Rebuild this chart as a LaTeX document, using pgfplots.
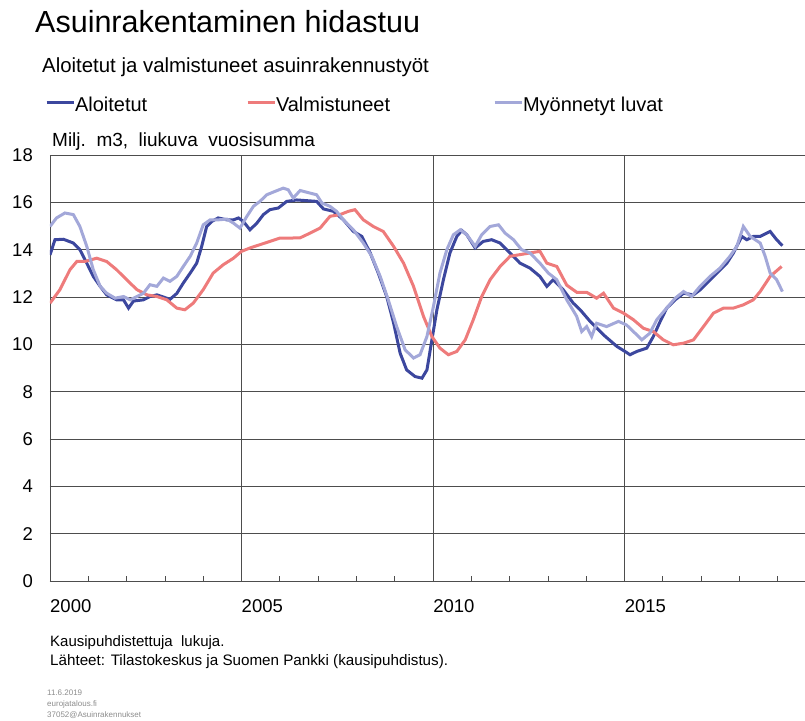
\documentclass[border=0pt]{standalone}
\usepackage{fontspec}
\setmainfont{Liberation Sans}
\usepackage{pgfplots}
\usepackage{pgfplotstable}
\pgfplotsset{compat=1.18}
\definecolor{cDark}{HTML}{3C479E}
\definecolor{cRed}{HTML}{EE7B7B}
\definecolor{cLight}{HTML}{A3A8D9}
\definecolor{cGrid}{HTML}{4D4D4D}

\pgfplotstableread{
x y
2000.00 13.78
2000.13 14.42
2000.35 14.44
2000.61 14.28
2000.78 14.00
2000.96 13.43
2001.13 12.87
2001.31 12.45
2001.48 12.09
2001.74 11.88
2001.92 11.88
2002.05 11.53
2002.18 11.83
2002.44 11.88
2002.61 12.02
2002.79 12.09
2002.96 12.00
2003.13 11.90
2003.31 12.15
2003.48 12.59
2003.66 13.01
2003.83 13.43
2003.96 14.14
2004.09 14.98
2004.22 15.19
2004.39 15.34
2004.62 15.26
2004.79 15.26
2004.92 15.34
2005.05 15.19
2005.22 14.84
2005.40 15.12
2005.57 15.48
2005.74 15.69
2005.96 15.76
2006.18 16.04
2006.44 16.10
2006.70 16.07
2006.96 16.04
2007.14 15.72
2007.40 15.62
2007.66 15.26
2007.92 14.77
2008.14 14.56
2008.36 13.86
2008.57 13.01
2008.79 12.02
2008.97 10.90
2009.14 9.63
2009.31 8.92
2009.53 8.64
2009.71 8.57
2009.84 8.92
2009.97 10.19
2010.10 11.46
2010.27 12.73
2010.44 13.86
2010.62 14.56
2010.75 14.81
2010.88 14.63
2011.10 14.07
2011.31 14.35
2011.53 14.42
2011.75 14.28
2012.01 13.86
2012.27 13.43
2012.53 13.22
2012.79 12.87
2012.97 12.45
2013.14 12.73
2013.40 12.30
2013.66 11.74
2013.84 11.46
2014.10 10.97
2014.45 10.40
2014.80 9.91
2015.01 9.70
2015.14 9.56
2015.32 9.70
2015.58 9.84
2015.75 10.33
2015.93 10.97
2016.10 11.53
2016.32 11.88
2016.54 12.16
2016.80 12.09
2016.97 12.30
2017.15 12.59
2017.41 13.01
2017.67 13.43
2017.84 13.86
2018.06 14.56
2018.19 14.42
2018.36 14.56
2018.54 14.56
2018.80 14.77
2018.97 14.42
2019.12 14.17
}\aloitetut

\pgfplotstableread{
x y
2000.00 11.74
2000.26 12.31
2000.52 13.15
2000.70 13.50
2000.91 13.50
2001.22 13.64
2001.48 13.50
2001.74 13.15
2002.00 12.73
2002.27 12.31
2002.53 12.09
2002.79 12.02
2003.05 11.88
2003.31 11.53
2003.52 11.46
2003.74 11.74
2004.00 12.31
2004.26 13.01
2004.52 13.36
2004.79 13.64
2005.00 13.93
2005.22 14.07
2005.48 14.21
2005.74 14.35
2006.00 14.49
2006.27 14.49
2006.53 14.50
2006.79 14.70
2007.05 14.91
2007.31 15.41
2007.57 15.48
2007.79 15.62
2007.96 15.69
2008.18 15.26
2008.44 14.98
2008.70 14.77
2008.97 14.14
2009.23 13.43
2009.49 12.45
2009.75 11.18
2009.97 10.33
2010.18 9.84
2010.40 9.56
2010.62 9.70
2010.84 10.19
2011.05 11.04
2011.27 12.02
2011.49 12.73
2011.75 13.29
2012.01 13.72
2012.27 13.79
2012.53 13.86
2012.79 13.93
2012.97 13.43
2013.23 13.29
2013.49 12.50
2013.75 12.20
2014.01 12.20
2014.27 11.95
2014.45 12.16
2014.71 11.53
2014.97 11.32
2015.23 11.04
2015.49 10.68
2015.75 10.54
2016.01 10.19
2016.27 9.98
2016.54 10.05
2016.80 10.19
2017.06 10.75
2017.32 11.32
2017.58 11.53
2017.84 11.53
2018.10 11.67
2018.36 11.88
2018.54 12.23
2018.80 12.87
2019.10 13.29
}\valmistuneet

\pgfplotstableread{
x y
2000.00 14.98
2000.17 15.34
2000.39 15.55
2000.61 15.48
2000.78 14.98
2000.96 14.14
2001.13 13.15
2001.31 12.45
2001.48 12.16
2001.70 11.95
2001.92 12.02
2002.09 11.88
2002.27 12.02
2002.44 12.16
2002.61 12.52
2002.79 12.45
2002.96 12.80
2003.13 12.66
2003.31 12.87
2003.48 13.29
2003.66 13.72
2003.83 14.28
2004.00 15.05
2004.18 15.26
2004.39 15.26
2004.62 15.29
2004.79 15.12
2004.96 14.91
2005.14 15.41
2005.31 15.83
2005.48 16.04
2005.66 16.32
2005.87 16.46
2006.09 16.60
2006.22 16.53
2006.35 16.18
2006.53 16.50
2006.79 16.39
2006.96 16.32
2007.10 15.97
2007.31 15.83
2007.48 15.62
2007.66 15.26
2007.92 14.84
2008.18 14.28
2008.40 13.72
2008.62 12.87
2008.83 11.88
2009.05 10.75
2009.27 9.77
2009.49 9.42
2009.66 9.56
2009.84 10.33
2010.01 11.60
2010.18 13.01
2010.36 14.00
2010.53 14.63
2010.71 14.84
2010.88 14.63
2011.10 14.14
2011.27 14.63
2011.49 14.98
2011.71 15.05
2011.88 14.70
2012.10 14.42
2012.31 14.00
2012.53 13.86
2012.79 13.43
2013.01 13.01
2013.23 12.73
2013.49 11.88
2013.75 11.18
2013.88 10.54
2014.01 10.75
2014.14 10.33
2014.27 10.89
2014.53 10.75
2014.84 10.97
2015.05 10.82
2015.23 10.54
2015.45 10.19
2015.66 10.47
2015.84 11.04
2016.06 11.46
2016.32 11.95
2016.54 12.23
2016.75 12.02
2016.97 12.45
2017.23 12.87
2017.49 13.22
2017.75 13.72
2017.93 14.14
2018.10 14.98
2018.28 14.56
2018.54 14.28
2018.67 13.72
2018.80 13.01
2018.97 12.73
2019.12 12.23
}\luvat

\begin{document}
\begin{tikzpicture}
\useasboundingbox (0,0) rectangle (805pt,720pt);
\begin{axis}[
  at={(50pt,139pt)}, anchor=south west,
  scale only axis, width=755pt, height=426pt,
  xmin=2000, xmax=2019.71, ymin=0, ymax=18,
  axis x line=bottom, axis y line=left,
  axis line style={-, cGrid, line width=0.9pt},
  xtick={2000,2005,2010,2015}, xticklabels={2000,2005,2010,2015},
  minor xtick={2001,2002,2003,2004,2006,2007,2008,2009,2011,2012,2013,2014,2016,2017,2018,2019},
  ytick={0,2,...,18},
  tick align=inside,
  major tick length=0pt, minor tick length=5pt,
  minor tick style={cGrid, line width=0.8pt},
  grid=major, major grid style={cGrid, line width=0.9pt},
  xticklabel style={anchor=north west, inner sep=0pt, yshift=-18pt, font=\fontsize{18.5}{20}\selectfont},
  yticklabel style={anchor=east, inner sep=0pt, xshift=-17pt, font=\fontsize{18.5}{20}\selectfont},
  /pgf/number format/assume math mode=true,
  legend style={at={(axis description cs:-0.0066,1.1174)}, anchor=west, draw=none, fill=none,
    inner sep=0pt, outer sep=0pt, font=\fontsize{20}{24}\selectfont,
    nodes={inner sep=0pt}, column sep=0pt},
  legend columns=3, legend cell align=left,
  legend image code/.code={\draw[#1, line width=3pt] (0pt,2pt) -- (27pt,2pt);},
]
\addlegendimage{cDark}
\addlegendentry{\makebox[171pt][l]{Aloitetut}}
\addlegendimage{cRed}
\addlegendentry{\makebox[217pt][l]{Valmistuneet}}
\addlegendimage{cLight}
\addlegendentry{Myönnetyt luvat}
\addplot[cDark, line width=3pt, forget plot] table[x=x,y=y] {\aloitetut};
\addplot[cRed, line width=3pt, forget plot] table[x=x,y=y] {\valmistuneet};
\addplot[cLight, line width=3pt, forget plot] table[x=x,y=y] {\luvat};
\end{axis}
\node[anchor=base west, inner sep=0pt] at (35pt,687pt) {\fontsize{30.5}{36}\selectfont Asuinrakentaminen hidastuu};
\node[anchor=base west, inner sep=0pt] at (42pt,647pt) {\fontsize{20.4}{24}\selectfont Aloitetut ja valmistuneet asuinrakennustyöt};
\node[anchor=base west, inner sep=0pt] at (52pt,573pt) {\fontsize{19}{22}\selectfont Milj.\ \ m3,\ \ liukuva\ \ vuosisumma};
\node[anchor=base west, inner sep=0pt] at (50pt,74pt) {\fontsize{15}{18}\selectfont Kausipuhdistettuja\ \ lukuja.};
\node[anchor=base west, inner sep=0pt] at (50pt,55pt) {\fontsize{15.2}{18}\selectfont Lähteet: Tilastokeskus ja Suomen Pankki (kausipuhdistus).};
\node[anchor=base west, inner sep=0pt, text=black!45] at (47pt,25pt) {\fontsize{8}{10}\selectfont 11.6.2019};
\node[anchor=base west, inner sep=0pt, text=black!45] at (47pt,14pt) {\fontsize{8}{10}\selectfont eurojatalous.fi};
\node[anchor=base west, inner sep=0pt, text=black!45] at (47pt,3pt) {\fontsize{8}{10}\selectfont 37052@Asuinrakennukset};
\end{tikzpicture}
\end{document}
